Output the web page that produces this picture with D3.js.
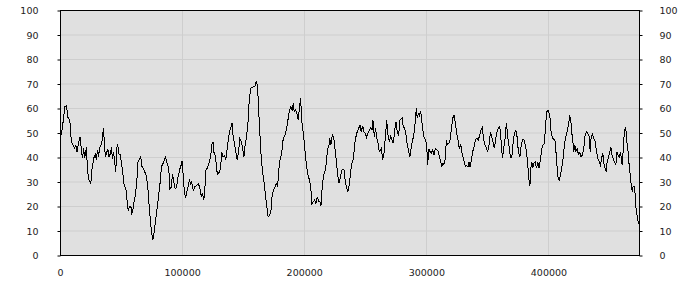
<!DOCTYPE html>
<html><head><meta charset="utf-8">
<script src="https://cdn.jsdelivr.net/npm/d3@7"></script>
<style>body{margin:0;background:#fff}svg text{font-family:"DejaVu Sans",Verdana,sans-serif;font-size:9.5px;fill:#222}</style>
</head><body><svg id="c" width="700" height="300"></svg>
<script>
const yTicks = [0,10,20,30,40,50,60,70,80,90,100];
const xTicks = [0,100000,200000,300000,400000];
const xs = [0,1600,3000,3900,5200,6600,8000,8800,9300,10700,12000,12900,13900,15300,16400,17500,18400,19400,20200,21600,22500,23500,25200,26200,27600,29000,29800,30700,31500,32500,33900,34800,35600,36400,37200,38300,39300,40200,41300,42100,43000,43800,44800,45700,46500,47300,48400,49200,50300,51600,52500,53600,54400,55200,56100,56900,58000,58800,59600,60700,61800,62900,63900,65100,66100,67200,68000,69400,70800,72100,73000,74100,74900,76000,76800,77600,78700,79500,80700,81700,83100,84400,86400,87700,89100,89900,91000,92100,93200,94300,95400,96700,98100,99200,100000,100800,102000,103000,104100,105200,106100,106900,107700,108500,109300,110200,111200,112300,113400,114500,115600,116700,117800,118600,119400,120500,121600,122700,123800,124600,125400,126200,127400,128200,129300,130300,131500,132500,133600,134800,135800,136900,138000,139100,140200,141000,141800,143000,144000,145100,146200,147300,148400,149500,150600,151600,152800,153900,154900,156100,157400,158800,159800,160700,161800,162900,163700,164800,165900,167000,167800,169200,170500,171600,172700,173800,174900,176000,177000,178200,178700,179800,180900,181700,182500,183600,184800,185800,186900,188000,189100,190200,191000,191800,193000,194000,195100,196200,197100,197900,198900,200000,201100,202200,203300,204400,205500,206300,207400,208500,209600,210700,211800,212900,213700,214800,215900,217000,218000,219200,220200,220800,221900,223000,224100,225200,226200,227400,228400,229500,230700,231700,232800,233600,234800,235800,236900,238000,239100,240200,241300,242400,243400,244600,245700,246700,247900,248900,250000,251100,252200,253300,254400,255500,256300,257400,258500,259300,260200,261000,262000,263100,264300,265300,266400,267500,268600,269700,270800,271900,273000,274100,275200,276200,277400,278400,279500,280300,281100,282300,283400,284400,285600,286600,287700,288900,289900,291000,291800,292600,293400,294300,295400,296200,297100,298100,299200,300300,301100,302000,303000,304100,305200,306300,307400,308500,309600,310700,311800,312600,313400,314500,315600,316400,317200,318400,319400,320500,321600,322700,323800,324900,326000,327000,328200,329300,330300,331100,332000,333100,334200,335000,335800,336900,338000,339100,340200,341300,342600,343800,344800,345900,347000,348100,349200,350300,351400,352500,353600,354700,355700,356900,358000,359000,360200,361200,362300,363400,364500,365600,366700,367800,368900,370000,371100,372100,373300,374300,375400,376600,377600,378700,379800,380900,382000,383100,383900,384800,385600,386400,387200,388000,389100,390200,391300,392400,393400,394600,395700,396700,397900,398900,400000,401100,402200,403300,404400,405500,406600,407700,408800,409800,411000,412000,413100,414300,415300,416400,417500,418400,419200,420000,420800,421600,422500,423500,424600,425700,426800,427900,429000,430100,431100,432300,433400,434200,435000,436100,437200,438300,439300,440500,441600,442600,443800,444600,445400,446500,447300,448100,449200,450300,451100,452000,453000,454100,455200,456100,456900,458000,458800,459600,460400,461200,462000,462900,463700,464500,465300,466100,467000,467800,468600,469400,470200,471100,471600,472700,473800,475000];
const ys = [47,51,56,60.5,61,56,55,50,46,45,43.5,45,42,46,48,43,39.5,43.5,39.5,44,35,31,29,35,39.5,41,39,43,40,44,45,48,52,45,40,42,43,40,41.5,44,39,42,38,34,44,45,41,41,38,32.5,28.5,27.5,26,20,18,20,20,17,18,22,24.5,30,38,39,40,36,35.4,34,32,26.5,20,14,9.5,6,8,11.5,15.6,19,24,28,36,37.4,40,37.4,35.4,27,27.5,33,30,27,27.5,32,35,36.7,38.4,33,25,23.4,26.5,28.5,31,28.5,29.7,28,26,28,28,28.5,29,27.5,24,25,22.4,26.5,34.7,35.4,37,38.8,42,46,46,41.5,40.5,34.7,33,33.7,35.4,42,40,40.5,38.8,43.5,47.6,51,52.4,54,48.3,45,42,39,42,47.6,46.5,43.8,40,45,48.3,53.7,62.6,68,68.4,68.7,69,70.7,69,57,49.7,39.5,34,30,26.5,20.4,15.6,16.3,17.7,24.5,26.5,27.5,29.3,28,31.3,38,40,42,46.5,48.3,49.7,52.4,55.8,59.2,60.5,58.8,62,58.5,59.2,57.8,55,60.8,64,55,51,46.3,40,35.4,32,30.6,26.5,21,21.8,22.4,21,23.8,22,21.8,20,28,32.6,34,37.4,43.5,44.2,47.6,45,49,48.3,43.5,38.8,32.6,29.3,31.3,34.7,35,34.7,30,27.2,25.9,28.6,34,37.4,39,45,48.3,50.3,51.7,53,50.3,52.8,50.3,49.7,48,49.7,51,52,51,55,48.3,52,47.6,47,42.9,42.2,43.5,38.8,41.5,47.6,55,49,46.3,48.3,47,45.6,51,54.4,50.3,49,55,55.5,56,52.4,51.7,49,45,42.2,40,44.2,47,49.7,54.4,60,55.8,57.8,57,58.8,55,51,48.3,47,45,36.7,43.3,42.2,41.5,42.9,40.8,43.5,42.9,42.4,40,38,36,37.4,37,39.5,47,45,45.6,47,51,55.8,57,53.7,49.7,47,43.5,45,41.5,39.5,38,36,36.5,36,38,36,38.8,42.2,44.2,47,47.6,47,49,51,52,47,45,43.5,42.2,45,50,48.3,46,43.5,47.6,50.3,51.7,52.4,47,39.5,43.5,47.6,54,48.3,44.2,40,40,45.6,49.7,51,48.3,42.2,40,44.2,47,47.3,45,42.2,36.7,31.3,28,35.4,38,35.4,37.4,38,35.4,38,35.4,38.8,43.5,45,45.6,54.4,58.8,58.8,57,50.3,47.6,47.3,46.3,39.5,32,30.6,32.6,36,39.5,45,48.3,50.3,53,57,54.4,49.7,46.3,42.2,45,42.5,43.5,41,42,40,41,44,49,50.3,49.7,48.3,42.2,48.3,49.3,47.6,46.3,42.2,39.5,38,36.7,40,41.5,37.4,35.4,34,38,40,42.2,44.2,40.8,39.5,38,36.7,42.2,40.8,40,41.5,40,36.7,42.2,49,52,50.3,45,42.2,36.7,32.6,28.6,25.9,27.9,27.9,24.5,19.7,15.6,12.9,12.2];

const data = xs.map((x,i)=>({x, y: ys[i]}));
const svg = d3.select("#c");
const L = 60, R = 640, T = 10, B = 255;
const x = d3.scaleLinear().domain([0,475000]).range([L,R]);
const y = d3.scaleLinear().domain([0,100]).range([B,T]);

svg.append("rect").attr("x",L).attr("y",T).attr("width",R-L).attr("height",B-T).attr("fill","#e0e0e0");
// grid
svg.append("g").selectAll("line").data(yTicks.filter(d=>d>0&&d<100)).join("line")
  .attr("x1",L).attr("x2",R).attr("y1",d=>y(d)+0.5).attr("y2",d=>y(d)+0.5)
  .attr("stroke","#cecece").attr("stroke-width",1);
svg.append("g").selectAll("line").data(xTicks.filter(d=>d>0)).join("line")
  .attr("y1",T).attr("y2",B).attr("x1",d=>Math.round(x(d))+0.5).attr("x2",d=>Math.round(x(d))+0.5)
  .attr("stroke","#cecece").attr("stroke-width",1);

// line
svg.append("path").datum(data)
  .attr("d", d3.line().x(d=>x(d.x)).y(d=>y(d.y)))
  .attr("fill","none").attr("stroke","#000").attr("stroke-width",1)
  .attr("shape-rendering","crispEdges");

// frame
svg.append("rect").attr("x",L+0.5).attr("y",T+0.5).attr("width",R-L-1).attr("height",B-T).attr("fill","none").attr("stroke","#000").attr("shape-rendering","crispEdges");

// axes
const yl = d3.axisLeft(y).tickValues(yTicks).tickSize(3).tickPadding(19).tickFormat(d3.format("d"));
const gl = svg.append("g").attr("transform",`translate(${L+0.5},0.5)`).call(yl);
const yr = d3.axisRight(y).tickValues(yTicks).tickSize(3).tickPadding(17).tickFormat(d3.format("d"));
const gr = svg.append("g").attr("transform",`translate(${R-0.5},0.5)`).call(yr);
const xb = d3.axisBottom(x).tickValues(xTicks).tickSize(0).tickPadding(14).tickFormat(d3.format("d"));
const gb = svg.append("g").attr("transform",`translate(0,${B+0.5})`).call(xb);
[gl,gr,gb].forEach(g=>{g.select(".domain").remove(); g.selectAll("line").attr("stroke","#000"); g.selectAll("text").attr("fill","#222").style("font-size","9.5px").style("font-family","'DejaVu Sans',Verdana,sans-serif");});
gl.selectAll("text").attr("dy","0.35em");
gr.selectAll("text").attr("dy","0.35em");
</script></body></html>
